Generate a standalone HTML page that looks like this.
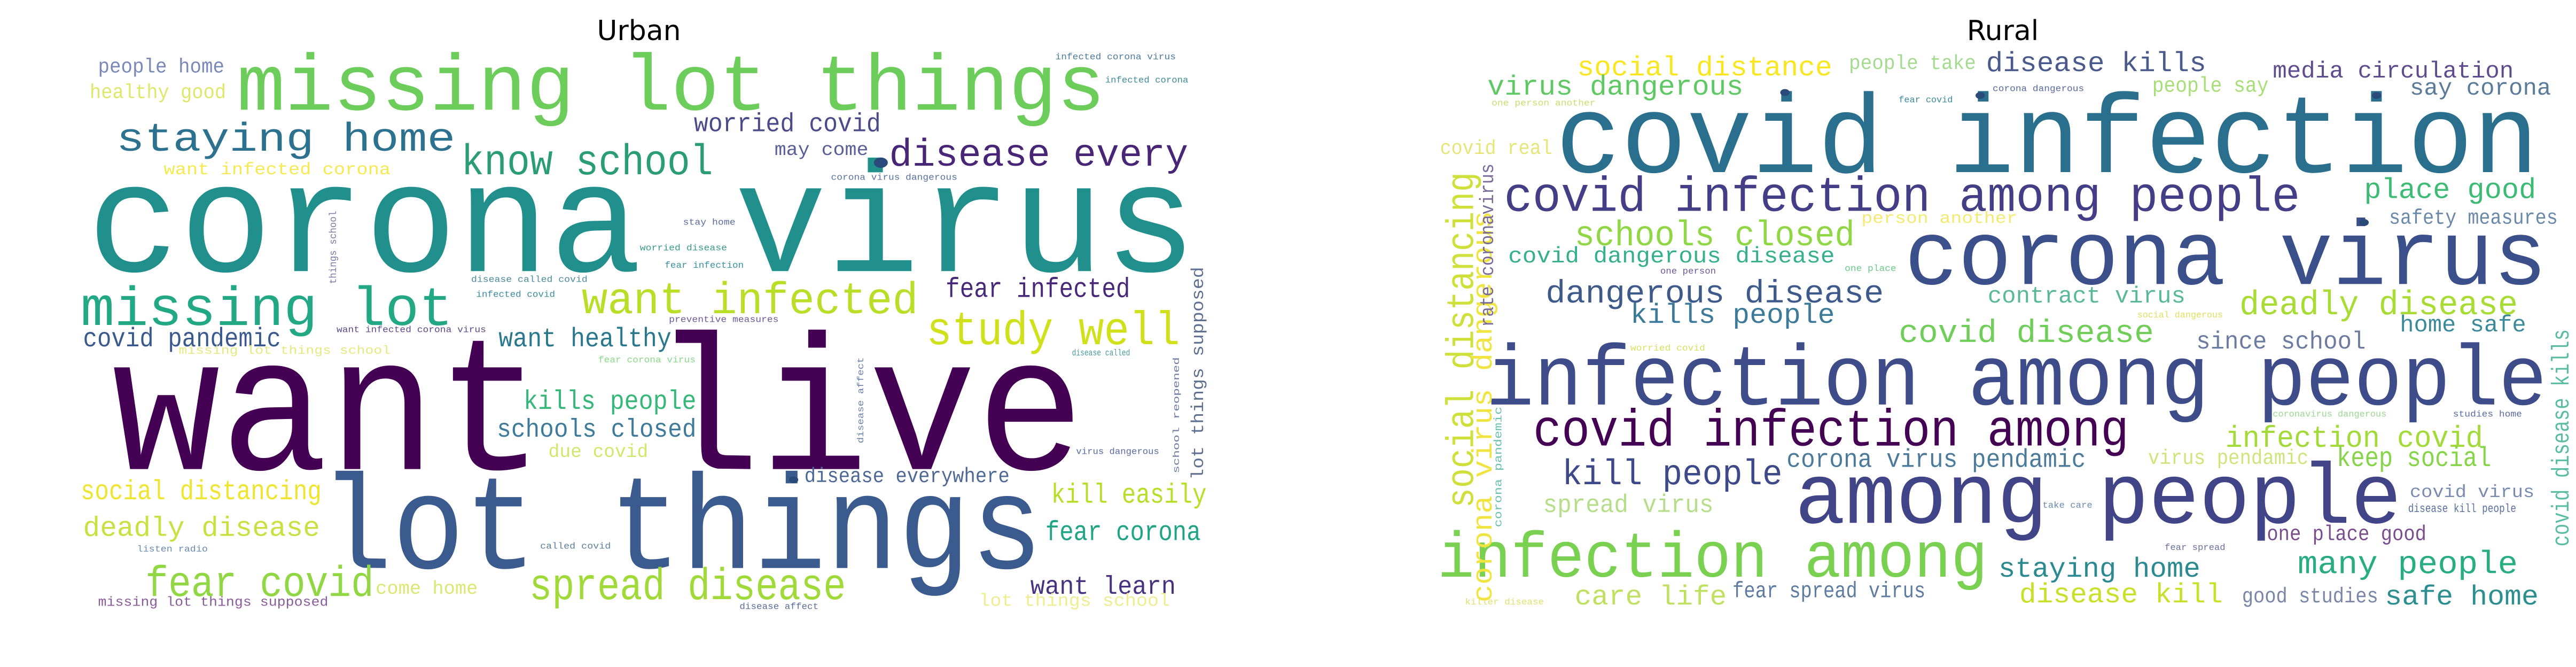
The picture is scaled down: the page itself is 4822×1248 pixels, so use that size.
<!DOCTYPE html>
<html><head><meta charset="utf-8"><style>
html,body{margin:0;padding:0;background:#fff;}
#wrap{position:relative;width:4822px;height:1248px;overflow:hidden;background:#fff;}
.title{position:absolute;top:28px;font-family:"DejaVu Sans","Liberation Sans",sans-serif;font-size:52px;color:#000;transform:translateX(-50%);white-space:nowrap;}
svg{position:absolute;top:0;width:2411px;height:1248px;}
svg text{font-family:"Liberation Mono","DejaVu Sans Mono",monospace;}
</style></head><body>
<div id="wrap">
<div class="title" style="left:1196px">Urban</div>
<div class="title" style="left:3749px">Rural</div>
<svg id="urban" style="left:0" viewBox="0 0 1550 1550" preserveAspectRatio="none"></svg>
<svg id="rural" style="left:2411px" viewBox="0 0 1550 1550" preserveAspectRatio="none"></svg>
</div>
<script>
// [text, left, right, baseline, size, color]
const urbanWords = [
["missing lot things",285,1330,255,178,"#6ccd5a"],
["corona virus",105,1440,630,350,"#21908d"],
["want live",135,1305,1090,430,"#440154"],
["lot things",385,1255,1320,300,"#3b5b8f"],
["staying home",140,548,350,90,"#2c728e"],
["know school",555,858,405,96,"#2a9d75"],
["worried covid",835,1060,305,59,"#4b4a8a"],
["may come",932,1045,360,42,"#5a5e98"],
["disease every",1070,1430,385,86,"#482576"],
["people home",118,270,168,45,"#7a88b8"],
["healthy good",108,272,228,45,"#dde86a"],
["want infected corona",197,470,405,38,"#f5ea50"],
["infected corona virus",1270,1415,138,20,"#4e7a9a"],
["infected corona",1330,1430,192,20,"#3e8a9a"],
["corona virus dangerous",1000,1152,418,20,"#5a70a0"],
["missing lot",97,545,755,123,"#22a884"],
["want infected",700,1105,728,100,"#bade28"],
["fear infected",1138,1360,690,62,"#482878"],
["study well",1115,1420,800,105,"#d0e11c"],
["covid pandemic",100,338,805,60,"#3a5a8e"],
["missing lot things school",215,470,822,26,"#e2ea80"],
["want healthy",600,808,805,60,"#2a788e"],
["kills people",630,838,950,60,"#35b779"],
["schools closed",598,838,1015,58,"#3e7a9a"],
["due covid",660,780,1062,42,"#d0e86a"],
["social distancing",97,387,1160,62,"#eee530"],
["deadly disease",100,385,1245,62,"#c8e040"],
["disease everywhere",968,1215,1120,46,"#4e6896"],
["kill easily",1265,1452,1168,62,"#b8de29"],
["fear corona",1258,1445,1255,62,"#20a486"],
["fear covid",175,450,1385,96,"#90d743"],
["come home",452,575,1380,42,"#d8e870"],
["spread disease",637,1018,1392,100,"#a0da39"],
["want learn",1240,1415,1380,58,"#46327e"],
["lot things school",1178,1408,1408,40,"#f0ec90"],
["missing lot things supposed",118,395,1408,30,"#8a5c9a"],
["disease affect",890,985,1415,20,"#5a6a9a"],
["listen radio",165,250,1282,20,"#6a8ab0"],
["called covid",650,735,1275,20,"#5a80a0"],
["stay home",822,885,522,20,"#5a6aa0"],
["worried disease",770,875,582,20,"#3a9a8a"],
["fear infection",800,895,622,20,"#3a90a0"],
["disease called covid",567,707,655,20,"#4a8a9a"],
["infected covid",573,668,690,20,"#3a8aa0"],
["preventive measures",805,937,748,20,"#6a5a9a"],
["want infected corona virus",405,585,772,20,"#5a4a8a"],
["fear corona virus",720,837,842,20,"#8ada8a"],
["disease called",1290,1360,826,20,"#4a9aa0"],
["virus dangerous",1295,1395,1055,20,"#5a6aa0"]
];
// vertical: [text, centerX, bottom, top, size, color]
const urbanVertical = [
["lot things supposed",1440,1115,620,32,"#607090"],
["things school",400,660,490,18,"#7a7aa0"],
["school reopened",1415,1100,830,16,"#6a7aa0"],
["disease affect",1035,1030,830,16,"#6a80a8"]
];
const urbanDots = [[1060,378,12],[955,1115,8]];

const ruralWords = [
["covid infection",322,1505,400,250,"#2a6f8e"],
["corona virus",742,1515,660,205,"#3b4f8a"],
["infection among people",238,1515,940,192,"#3e4c8a"],
["among people",610,1340,1215,192,"#414487"],
["covid infection among people",260,1218,490,110,"#433e85"],
["covid infection among",295,1012,1035,116,"#440154"],
["infection among",180,842,1340,144,"#7ad151"],
["social distance",348,655,175,62,"#f8e621"],
["people take",675,828,160,45,"#a5db90"],
["disease kills",840,1105,165,62,"#4a5a8c"],
["media circulation",1185,1475,180,52,"#5e4d8e"],
["virus dangerous",240,548,220,62,"#5ec962"],
["people say",1040,1180,213,48,"#a8de78"],
["say corona",1350,1520,220,52,"#5a7b9a"],
["covid real",183,318,358,45,"#e6e678"],
["place good",1295,1502,460,64,"#3cbb75"],
["safety measures",1325,1528,520,46,"#6a88a8"],
["person another",690,878,518,36,"#f5ea70"],
["schools closed",345,682,570,80,"#8fd744"],
["covid dangerous disease",265,658,610,50,"#35b08a"],
["dangerous disease",310,717,703,72,"#3e5a8a"],
["kills people",412,658,750,62,"#3b7a98"],
["contract virus",842,1080,703,52,"#5ab89a"],
["deadly disease",1145,1480,730,76,"#a8db34"],
["home safe",1338,1490,770,52,"#3a8a9a"],
["covid disease",735,1042,795,72,"#6ece58"],
["since school",1093,1297,810,55,"#6b7ca0"],
["infection covid",1128,1438,1038,68,"#a2da37"],
["corona virus pendamic",600,960,1085,58,"#4b7a9a"],
["virus pendamic",1035,1228,1078,46,"#cde57a"],
["keep social",1262,1448,1083,62,"#86d549"],
["kill people",330,595,1125,80,"#3e4989"],
["spread virus",307,512,1190,56,"#b6de8a"],
["covid virus",1350,1500,1155,40,"#7a8bb0"],
["disease kill people",1348,1478,1190,26,"#5a70a0"],
["one place good",1178,1370,1255,48,"#7a4e8e"],
["staying home",855,1098,1340,62,"#2a8a90"],
["many people",1215,1480,1332,72,"#27ad81"],
["care life",345,528,1405,62,"#bfe060"],
["fear spread virus",535,767,1388,50,"#5e7ba0"],
["disease kill",880,1125,1400,62,"#c7e02a"],
["good studies",1148,1312,1400,48,"#7a86a8"],
["safe home",1320,1505,1405,62,"#2c8e8e"],
["one person another",245,370,245,20,"#c8e070"],
["fear covid",735,800,238,20,"#3a8a9a"],
["corona dangerous",848,958,212,20,"#5a6aa0"],
["one person",448,515,636,20,"#6a5a9a"],
["one place",670,732,630,20,"#6aca8a"],
["social dangerous",1022,1125,738,20,"#e0e060"],
["worried covid",412,502,815,20,"#d8e060"],
["coronavirus dangerous",1185,1322,968,20,"#9ad890"],
["studies home",1402,1485,968,20,"#5a6aa0"],
["take care",908,968,1180,20,"#6a8ab0"],
["fear spread",1055,1128,1278,20,"#6a70a0"],
["killer disease",213,308,1405,20,"#e0e070"]
];
const ruralVertical = [
["social distancing",205,1180,400,72,"#cfe03a"],
["corona virus dangerous",232,1400,490,52,"#f0e440"],
["rate coronavirus",238,760,380,36,"#7a6a98"],
["covid disease kills",1530,1270,765,45,"#5abca0"],
["corona pandemic",252,1225,945,20,"#6ac0a8"]
];
const ruralDots = [[598,215,8],[833,222,8],[1310,222,8],[1295,517,8]];

const NS = "http://www.w3.org/2000/svg";
function draw(svgId, words, verts, dots){
  const svg = document.getElementById(svgId);
  words.forEach(w=>{
    const t = document.createElementNS(NS,"text");
    
    
    t.setAttribute("x", w[1]);
    t.setAttribute("y", w[3]);
    t.setAttribute("font-size", w[4]*1.04);
    t.setAttribute("fill", w[5]);
    t.setAttribute("textLength", w[2]-w[1]);
    t.setAttribute("lengthAdjust", "spacingAndGlyphs");
    t.textContent = w[0];
    svg.appendChild(t);
  });
  verts.forEach(w=>{
    const t = document.createElementNS(NS,"text");
    
    
    const fs = w[4]*0.65;
    const bx = w[1] + fs*0.38;
    t.setAttribute("transform", "translate("+bx+","+w[2]+") rotate(-90)");
    t.setAttribute("x", 0);
    t.setAttribute("y", 0);
    t.setAttribute("font-size", fs);
    t.setAttribute("fill", w[5]);
    t.setAttribute("textLength", w[2]-w[3]);
    t.setAttribute("lengthAdjust", "spacingAndGlyphs");
    t.textContent = w[0];
    svg.appendChild(t);
  });
  dots.forEach(d=>{
    const c = document.createElementNS(NS,"ellipse");
    
    
    c.setAttribute("cx", d[0]); c.setAttribute("cy", d[1]);
    c.setAttribute("rx", d[2]*0.7); c.setAttribute("ry", d[2]);
    c.setAttribute("fill", "#2a4a7a");
    svg.appendChild(c);
  });
}
draw("urban", urbanWords, urbanVertical, urbanDots);
draw("rural", ruralWords, ruralVertical, ruralDots);
</script>
</body></html>
